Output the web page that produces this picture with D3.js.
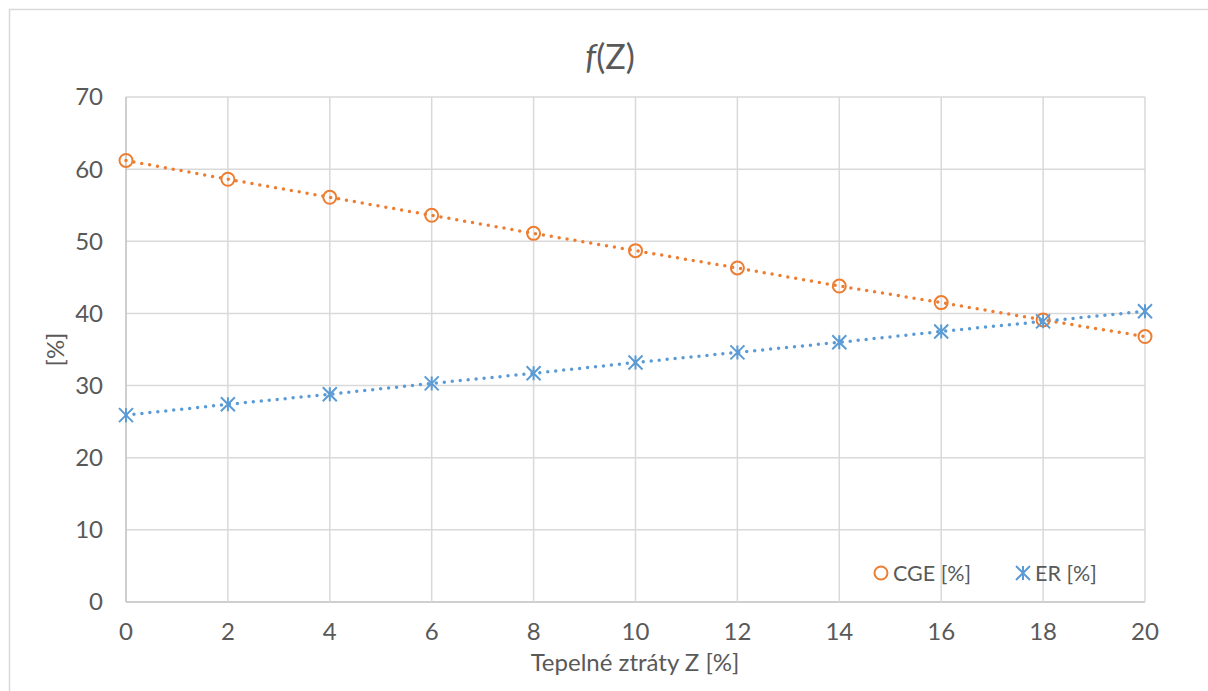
<!DOCTYPE html>
<html>
<head>
<meta charset="utf-8">
<script src="https://cdn.jsdelivr.net/npm/d3@7"></script>
<style>
  body { margin: 0; background: #fff; }
  text { font-family: Lato, "Open Sans", sans-serif; fill: #595959; }
</style>
</head>
<body>
<svg id="chart" width="1208" height="691"></svg>
<script>
// data
var ztraty = [0, 2, 4, 6, 8, 10, 12, 14, 16, 18, 20];
var cge = [61.2, 58.6, 56.1, 53.6, 51.1, 48.7, 46.3, 43.8, 41.5, 39.1, 36.8];
var er = [25.9, 27.4, 28.8, 30.3, 31.7, 33.2, 34.6, 36.0, 37.5, 38.9, 40.3];
var xTicks = [0, 2, 4, 6, 8, 10, 12, 14, 16, 18, 20];
var yTicks = [0, 10, 20, 30, 40, 50, 60, 70];

var orange = '#ed7d31', blue = '#5b9bd5';
var svg = d3.select('#chart');

// outer frame
svg.append('rect')
  .attr('x', 9.5).attr('y', 9.5)
  .attr('width', 1240).attr('height', 720)
  .attr('fill', 'none').attr('stroke', '#d9d9d9').attr('stroke-width', 1.5);

var x = d3.scaleLinear().domain([0, 20]).range([126, 1145]);
var y = d3.scaleLinear().domain([0, 70]).range([602, 97]);

// grid
svg.append('g').selectAll('line').data(yTicks).enter().append('line')
  .attr('x1', x(0)).attr('x2', x(20))
  .attr('y1', function(d){ return y(d); }).attr('y2', function(d){ return y(d); })
  .attr('stroke', function(d){ return d === 0 ? '#bfbfbf' : '#d9d9d9'; })
  .attr('stroke-width', 1.5);
svg.append('g').selectAll('line').data(xTicks).enter().append('line')
  .attr('x1', function(d){ return x(d); }).attr('x2', function(d){ return x(d); })
  .attr('y1', y(0)).attr('y2', y(70))
  .attr('stroke', function(d){ return d === 0 ? '#bfbfbf' : '#d9d9d9'; })
  .attr('stroke-width', 1.5);

// tick labels
svg.append('g').selectAll('text').data(yTicks).enter().append('text')
  .attr('x', 103).attr('y', function(d){ return y(d); })
  .attr('dy', '0.35em').attr('text-anchor', 'end')
  .style('font-size', '24px')
  .text(function(d){ return d; });
svg.append('g').selectAll('text').data(xTicks).enter().append('text')
  .attr('x', function(d){ return x(d); }).attr('y', 640)
  .attr('text-anchor', 'middle')
  .style('font-size', '24px')
  .text(function(d){ return d; });

// titles
var title = svg.append('text').attr('x', 610).attr('y', 69)
  .attr('text-anchor', 'middle').style('font-size', '34px');
title.append('tspan').style('font-style', 'italic').text('f');
title.append('tspan').text('(Z)');

svg.append('text').attr('x', 635).attr('y', 671)
  .attr('text-anchor', 'middle').style('font-size', '24px')
  .text('Tepelné ztráty Z [%]');

svg.append('text')
  .attr('transform', 'translate(64,' + y(35) + ') rotate(-90)')
  .attr('text-anchor', 'middle').style('font-size', '24px')
  .text('[%]');

// series lines (dotted)
function drawLine(vals, color){
  var line = d3.line()
    .x(function(d, i){ return x(ztraty[i]); })
    .y(function(d){ return y(d); });
  svg.append('path').datum(vals)
    .attr('d', line)
    .attr('fill', 'none').attr('stroke', color)
    .attr('stroke-width', 3.5)
    .attr('stroke-linecap', 'round')
    .attr('stroke-dasharray', '0,8');
}
drawLine(cge, orange);
drawLine(er, blue);

// markers
function circleMark(g, cx, cy){
  g.append('circle').attr('cx', cx).attr('cy', cy).attr('r', 6.5)
    .attr('fill', 'none').attr('stroke', orange).attr('stroke-width', 2);
}
function starMark(g, cx, cy){
  var s = 7, p = 'M' + (cx - s) + ',' + (cy - s) + 'L' + (cx + s) + ',' + (cy + s) +
    'M' + (cx - s) + ',' + (cy + s) + 'L' + (cx + s) + ',' + (cy - s) +
    'M' + cx + ',' + (cy - s) + 'L' + cx + ',' + (cy + s);
  g.append('path').attr('d', p).attr('stroke', blue).attr('stroke-width', 2).attr('fill', 'none');
}
var mk = svg.append('g');
cge.forEach(function(v, i){ circleMark(mk, x(ztraty[i]), y(v)); });
er.forEach(function(v, i){ starMark(mk, x(ztraty[i]), y(v)); });

// legend
var lg = svg.append('g');
circleMark(lg, 881, 573);
lg.append('text').attr('x', 893).attr('y', 573).attr('dy', '0.35em')
  .style('font-size', '21.5px').text('CGE [%]');
starMark(lg, 1023, 573);
lg.append('text').attr('x', 1035).attr('y', 573).attr('dy', '0.35em')
  .style('font-size', '21.5px').text('ER [%]');
</script>
</body>
</html>
